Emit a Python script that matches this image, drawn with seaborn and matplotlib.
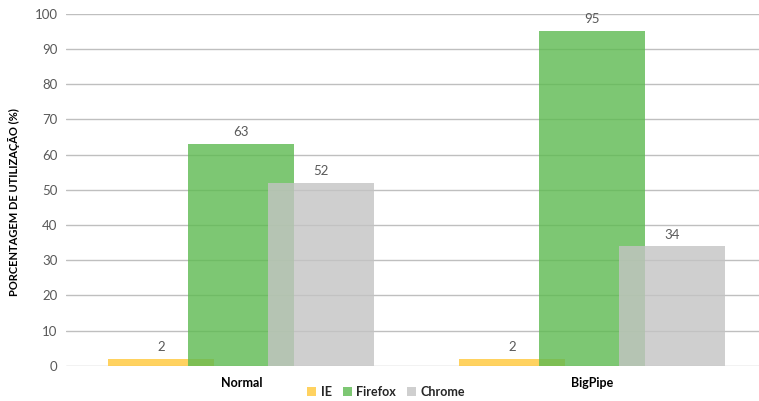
import matplotlib
matplotlib.use("Agg")
import matplotlib.pyplot as plt
import seaborn as sns
import pandas as pd
from matplotlib.patches import Patch

categories = ["Normal", "BigPipe"]
series = ["IE", "Firefox", "Chrome"]
ie_values = [2, 2]
firefox_values = [63, 95]
chrome_values = [52, 34]
y_ticks = [0, 10, 20, 30, 40, 50, 60, 70, 80, 90, 100]

colors = {"IE": "#FFC738", "Firefox": "#5DBA50", "Chrome": "#C4C4C4"}
offsets = {"IE": -0.228, "Firefox": 0.0, "Chrome": 0.228}
bar_width = 0.302

sns.set_theme(style="white")
plt.rcParams["font.family"] = ["Lato", "DejaVu Sans"]

fig = plt.figure(figsize=(7.59, 4.01), dpi=100)
ax = fig.add_axes([66 / 759, 0.0873, (767 - 66) / 759, 0.9663 - 0.0873])

values_map = {"IE": ie_values, "Firefox": firefox_values, "Chrome": chrome_values}
for s in series:
    df = pd.DataFrame({
        "x": [i + offsets[s] for i in range(len(categories))],
        "y": values_map[s],
    })
    sns.barplot(data=df, x="x", y="y", native_scale=True, width=bar_width,
                color=colors[s], alpha=0.8, saturation=1, ax=ax,
                linewidth=0, zorder=3, errorbar=None)
    for xi, yi in zip(df["x"], df["y"]):
        ax.text(xi, yi + 1.6, f"{yi}", ha="center", va="bottom",
                fontsize=9.5, color="#595959", zorder=5)

ax.set_xlim(-0.5, 1.5)
ax.set_ylim(0, 100)
ax.set_yticks(y_ticks)
ax.set_yticklabels([str(t) for t in y_ticks], fontsize=9.5, color="#595959")
ax.set_xticks(range(len(categories)))
ax.set_xticklabels(categories, fontsize=9, fontweight="bold", color="#000000")
ax.tick_params(axis="both", length=0, pad=6)
ax.tick_params(axis="x", pad=8)
ax.grid(axis="y", color="#BFBFBF", linewidth=1, zorder=0)
ax.set_axisbelow(True)
for sp in ax.spines.values():
    sp.set_visible(False)
ax.set_xlabel("")
ax.set_ylabel("PORCENTAGEM DE UTILIZAÇÃO (%)", fontsize=8, fontweight="bold",
              color="#000000")
ax.yaxis.set_label_coords(-(66 - 20) / (767 - 66), 0.465)

handles = [Patch(facecolor=colors[s], alpha=0.8, edgecolor="none") for s in series]
fig.legend(handles, series, loc="center", bbox_to_anchor=(386 / 759, 1 - 392 / 401),
           ncol=3, frameon=False, prop={"size": 9, "weight": "bold"},
           handlelength=0.7, handleheight=0.7, handletextpad=0.35, columnspacing=0.9)

fig.savefig("out.png", dpi=100)
